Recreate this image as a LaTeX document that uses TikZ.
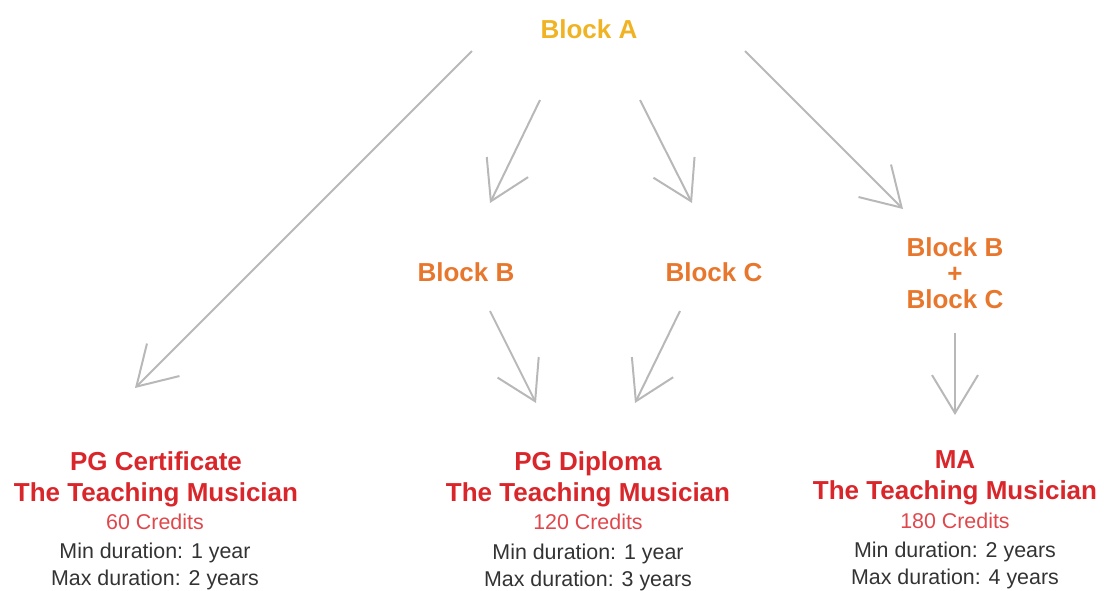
\documentclass[tikz,border=0pt]{standalone}
\usepackage{fontspec}
\setmainfont{Liberation Sans}
\usepackage{tikz}
\usetikzlibrary{arrows.meta,positioning}

\definecolor{blockgold}{HTML}{F0B323}
\definecolor{blockorange}{HTML}{E8772E}
\definecolor{titlered}{HTML}{D9262B}
\definecolor{creditred}{HTML}{E0474C}
\definecolor{durgray}{HTML}{333333}
\definecolor{arrowgray}{HTML}{B8B8B8}

\begin{document}
\begin{tikzpicture}[
        x=0.5pt, y=-0.5pt,
        % Block styles
        blocka/.style={
            text=blockgold,
            font=\fontsize{13}{15.5}\selectfont\bfseries,
            inner sep=0pt,
            align=center
        },
        block/.style={
            text=blockorange,
            font=\fontsize{13}{13}\selectfont\bfseries,
            inner sep=0pt,
            align=center
        },
        course/.style={
            text=titlered,
            font=\fontsize{13}{15.5}\selectfont\bfseries,
            inner sep=0pt,
            align=center
        },
        credits/.style={
            text=creditred,
            font=\fontsize{10.7}{13}\selectfont,
            inner sep=0pt
        },
        duration/.style={
            text=durgray,
            font=\fontsize{10.7}{13.5}\selectfont,
            inner sep=0pt,
            align=center
        },
        arrow/.style={
            draw=arrowgray,
            line width=1pt,
            -{Straight Barb[length=19pt,width=23pt,line width=1pt]}
        }
    ]
    \path[use as bounding box] (0,0) rectangle (1104,590);

    % Blocks
    \node[blocka] (blka) at (589,29) {Block A};
    \node[block] (blkb) at (466,272) {Block B};
    \node[block] (blkc) at (714,272) {Block C};
    \node[block] (blkbc) at (955,273) {Block B\\+\\Block C};

    % PG Certificate
    \node[course] (cert) at (156,479) {PG Certificate\\The Teaching Musician};
    \node[credits] (certcr) at (155,522) {60 Credits};
    \node[duration] (certdur) at (155,566) {Min duration: 1 year\\Max duration: 2 years};

    % PG Diploma
    \node[course] (dipl) at (588,479) {PG Diploma\\The Teaching Musician};
    \node[credits] (diplcr) at (588,522) {120 Credits};
    \node[duration] (dipldur) at (588,567) {Min duration: 1 year\\Max duration: 3 years};

    % MA
    \node[course] (ma) at (955,478) {MA\\The Teaching Musician};
    \node[credits] (macr) at (955,521) {180 Credits};
    \node[duration] (madur) at (955,565) {Min duration: 2 years\\Max duration: 4 years};

    % Connections
    \draw[arrow] ([shift={(-117,22)}]blka.center) -- ([shift={(-21,-91)}]cert.center);
    \draw[arrow] ([shift={(-49,71)}]blka.center) -- ([shift={(24,-69)}]blkb.center);
    \draw[arrow] ([shift={(51,71)}]blka.center) -- ([shift={(-22,-69)}]blkc.center);
    \draw[arrow] ([shift={(156,22)}]blka.center) -- ([shift={(-52,-64)}]blkbc.center);
    \draw[arrow] ([shift={(24,39)}]blkb.center) -- ([shift={(-52,-76)}]dipl.center);
    \draw[arrow] ([shift={(-34,39)}]blkc.center) -- ([shift={(47,-76)}]dipl.center);
    \draw[arrow] ([shift={(0,60)}]blkbc.center) -- ([shift={(0,-63)}]ma.center);

\end{tikzpicture}
\end{document}
